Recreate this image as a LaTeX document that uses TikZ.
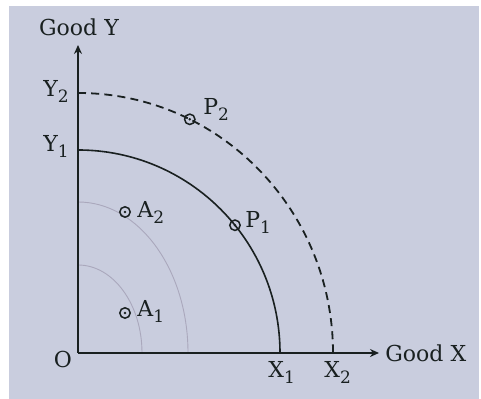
\documentclass[tikz,border=0pt]{standalone}
\usepackage{fontspec}
\setmainfont{DejaVu Serif}
\usetikzlibrary{arrows.meta}
\definecolor{paper}{RGB}{201,205,222}
\definecolor{ink}{RGB}{25,32,32}
\definecolor{faint}{RGB}{170,168,188}
\newcommand\lsub[1]{\raisebox{-0.5ex}{\fontsize{8.5}{9}\selectfont #1}}
\begin{document}
\begin{tikzpicture}[x=0.5pt,y=0.5pt,
  lbl/.style={text=ink,inner sep=0pt,font=\fontsize{11}{13}\selectfont},
  axis/.style={draw=ink,line width=1pt,-{Stealth[length=4.5pt,width=4pt]}},
  ppc/.style={draw=ink,line width=0.8pt},
  ppcdash/.style={draw=ink,line width=0.9pt,dash pattern=on 4pt off 2.6pt},
  faintarc/.style={draw=faint,line width=0.45pt},
  marker/.style={circle,draw=ink,line width=0.75pt,minimum size=5.2pt,inner sep=0pt,
    path picture={\fill[ink] (path picture bounding box.center) circle (0.7pt);}}]
\useasboundingbox (0,0) rectangle (481,399);
\fill[white] (0,0) rectangle (481,399);
\fill[paper] (9,0) rectangle (479,393);
% coordinates
\coordinate (O) at (78,46);
\coordinate (ytip) at (78,354);
\coordinate (xtip) at (379,46);
\coordinate (Y1) at (78,249);
\coordinate (Y2) at (78,306);
\coordinate (Af) at (78,197);
\coordinate (Ai) at (78,134);
% faint inner curves
\draw[faintarc] (Af) arc[start angle=90,end angle=0,x radius=110,y radius=151];
\draw[faintarc] (Ai) arc[start angle=90,end angle=0,x radius=64,y radius=88];
% PPCs
\draw[ppc] (Y1) arc[start angle=90,end angle=0,x radius=202,y radius=203];
\draw[ppcdash] (Y2) arc[start angle=90,end angle=0,x radius=255,y radius=260];
% axes
\draw[axis] (O) -- (ytip);
\draw[axis] (O) -- (xtip);
% points
\node[marker] (P1) at ({78+202*cos(39)},{46+203*sin(39)}) {};
\node[marker] (P2) at ({78+255*cos(64)},{46+260*sin(64)}) {};
\node[marker] (A2) at (125,187) {};
\node[marker] (A1) at (125,86) {};
% labels
\node[lbl,anchor=base] (gy) at (79,363) {Good Y};
\node[lbl,anchor=base west] (gx) at (385,37) {Good X};
\node[lbl,anchor=base east] (ly2) at (69,302) {Y\lsub{2}};
\node[lbl,anchor=base east] (ly1) at (69,247) {Y\lsub{1}};
\node[lbl,anchor=base] (lo) at (63,31) {O};
\node[lbl,anchor=base west] (lx1) at (268,21) {X\lsub{1}};
\node[lbl,anchor=base west] (lx2) at (324,21) {X\lsub{2}};
\node[lbl,anchor=base west] (la2) at (137,181) {A\lsub{2}};
\node[lbl,anchor=base west] (la1) at (137,82) {A\lsub{1}};
\node[lbl,anchor=base west] (lp1) at (245,171) {P\lsub{1}};
\node[lbl,anchor=base west] (lp2) at (203,284) {P\lsub{2}};
\end{tikzpicture}
\end{document}
